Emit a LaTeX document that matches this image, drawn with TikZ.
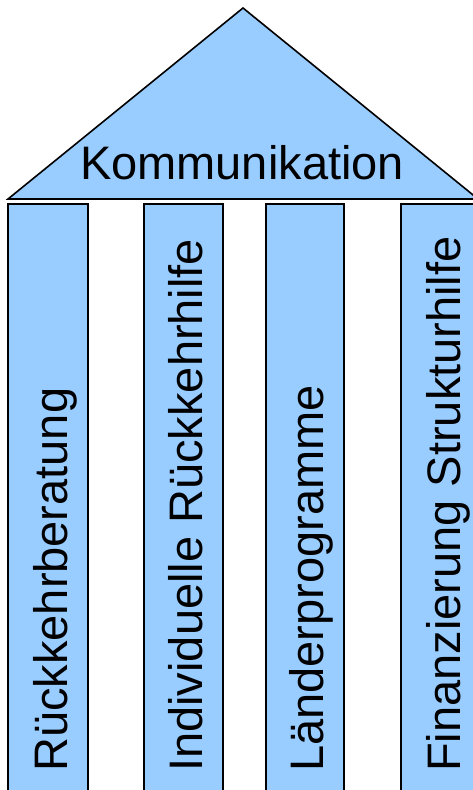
\documentclass[tikz,border=0pt]{standalone}
\usepackage{fontspec}
\setmainfont{Liberation Sans}
\definecolor{pillarblue}{HTML}{99CCFF}
\begin{document}
\begin{tikzpicture}[x=1pt,y=-1pt,
  part/.style={fill=pillarblue,draw=black,line width=1.6pt},
  label/.style={inner sep=0pt,font=\fontsize{47}{56}\selectfont},
  vlabel/.style={label,rotate=90,anchor=base west}]
\useasboundingbox (0,0) rectangle (473,790);
\begin{scope}
\clip (0,0) rectangle (473,790);
\draw[part,line join=miter] (8,199) -- (243,8) -- (478,199) -- cycle;
\draw[part] (8,204) rectangle (88,800);
\draw[part] (144,204) rectangle (223,800);
\draw[part] (266,204) rectangle (344,800);
\draw[part] (401,204) rectangle (480,800);
\end{scope}
\node[label,anchor=base] (roof) at (242,179) {Kommunikation};
\node[vlabel] (p1) at (67,772) {Rückkehrberatung};
\node[vlabel] (p2) at (202,772) {Individuelle Rückkehrhilfe};
\node[vlabel] (p3) at (323,772) {Länderprogramme};
\node[vlabel] (p4) at (460,772) {Finanzierung Strukturhilfe};
\end{tikzpicture}
\end{document}
